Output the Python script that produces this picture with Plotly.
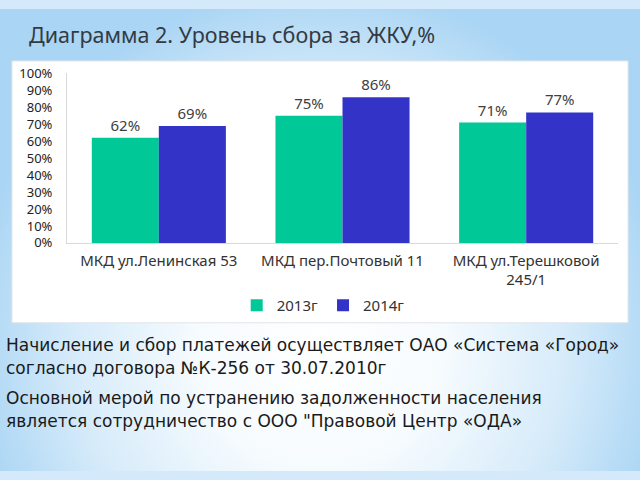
import plotly.graph_objects as go

# ---- data ----
categories = ["МКД ул.Ленинская 53", "МКД пер.Почтовый 11", "МКД ул.Терешковой<br>245/1"]
series_names = ["2013г", "2014г"]
values_2013 = [62, 75, 71]
values_2014 = [69, 86, 77]
y_ticks = [0, 10, 20, 30, 40, 50, 60, 70, 80, 90, 100]
y_tick_labels = [f"{v}%" for v in y_ticks]

title_text = "Диаграмма 2. Уровень сбора за ЖКУ,%"
body_lines = [
    "Начисление и сбор платежей осуществляет ОАО «Система «Город»",
    "согласно договора №К-256 от 30.07.2010г",
    "Основной мерой по устранению задолженности населения",
    "является сотрудничество с ООО \"Правовой Центр «ОДА»",
]
body_line_y = [349, 372.5, 404.5, 428]

GREEN = "#00C896"
BLUE = "#3333C8"
FONT = "Noto Sans"
BODY_FONT = "DejaVu Sans"

fig = go.Figure()

# ---- background gradient (on base subplot x/y) ----
fig.add_trace(go.Scatter(
    x=[-0.05, 1.05, 1.05, -0.05, -0.05],
    y=[-0.5, -0.5, 1.05, 1.05, -0.5],
    mode="lines", line=dict(width=0), fill="toself",
    fillgradient=dict(type="radial",
                      colorscale=[[0, "#ffffff"], [0.35, "#f6fbfe"], [0.7, "#d6ebfa"], [1, "#aad5f4"]]),
    hoverinfo="skip", showlegend=False, xaxis="x", yaxis="y"))

# white chart box
bx0, bx1 = 12 / 640, 628 / 640
by0, by1 = 1 - 326 / 480, 1 - 54 / 480
fig.add_trace(go.Scatter(
    x=[bx0, bx1, bx1, bx0, bx0], y=[by0, by0, by1, by1, by0],
    mode="lines", line=dict(width=1, color="#e2e6ea"), fill="toself", fillcolor="#ffffff",
    hoverinfo="skip", showlegend=False, xaxis="x", yaxis="y"))

# ---- bars ----
fig.add_trace(go.Bar(
    x=categories, y=values_2013, name=series_names[0], marker=dict(color=GREEN, line=dict(width=0)),
    texttemplate="%{y}%", textposition="outside", cliponaxis=False,
    textfont=dict(family=FONT, size=15, color="#404040"),
    xaxis="x2", yaxis="y2"))
fig.add_trace(go.Bar(
    x=categories, y=values_2014, name=series_names[1], marker=dict(color=BLUE, line=dict(width=0)),
    texttemplate="%{y}%", textposition="outside", cliponaxis=False,
    textfont=dict(family=FONT, size=15, color="#404040"),
    xaxis="x2", yaxis="y2"))

annotations = [
    dict(text=title_text, xref="paper", yref="paper", x=27 / 640, y=1 - 27 / 480,
         xanchor="left", yanchor="middle", showarrow=False,
         font=dict(family=FONT, size=21.5, color="#333a44")),
]
for line, ly in zip(body_lines, body_line_y):
    annotations.append(dict(text=line, xref="paper", yref="paper", x=4 / 640, y=1 - ly / 480,
                            xanchor="left", yanchor="middle", align="left", showarrow=False,
                            font=dict(family=BODY_FONT, size=17, color="#1a1a1a")))

fig.update_layout(
    width=640, height=480,
    margin=dict(l=0, r=0, t=0, b=0),
    paper_bgcolor="#d4eafa",
    plot_bgcolor="rgba(0,0,0,0)",
    barmode="group", bargap=0.27, bargroupgap=0,
    font=dict(family=FONT, color="#333333"),
    xaxis=dict(domain=[0, 1], range=[0, 1], visible=False, fixedrange=True),
    yaxis=dict(domain=[0, 1], range=[0, 1], visible=False, fixedrange=True),
    xaxis2=dict(domain=[67 / 640, 618 / 640], anchor="y2",
                showline=True, linecolor="#d9d9d9", linewidth=1, ticks="",
                showgrid=False, tickfont=dict(family=FONT, size=15, color="#333333"),
                ticklabelstandoff=4),
    yaxis2=dict(domain=[1 - 243 / 480, 1 - 67 / 480], anchor="x2", range=[0, 100],
                tickvals=y_ticks, ticktext=y_tick_labels,
                showline=True, linecolor="#d9d9d9", linewidth=1, ticks="",
                showgrid=False, zeroline=False,
                tickfont=dict(family=FONT, size=13, color="#222222"),
                ticklabelstandoff=11),
    showlegend=True,
    legend=dict(orientation="h", x=0.505, xanchor="center", y=1 - 308 / 480, yanchor="middle",
                font=dict(family=FONT, size=15, color="#333333"), bgcolor="rgba(0,0,0,0)",
                itemwidth=30, traceorder="normal"),
    annotations=annotations,
)

fig.write_html("out.html")
